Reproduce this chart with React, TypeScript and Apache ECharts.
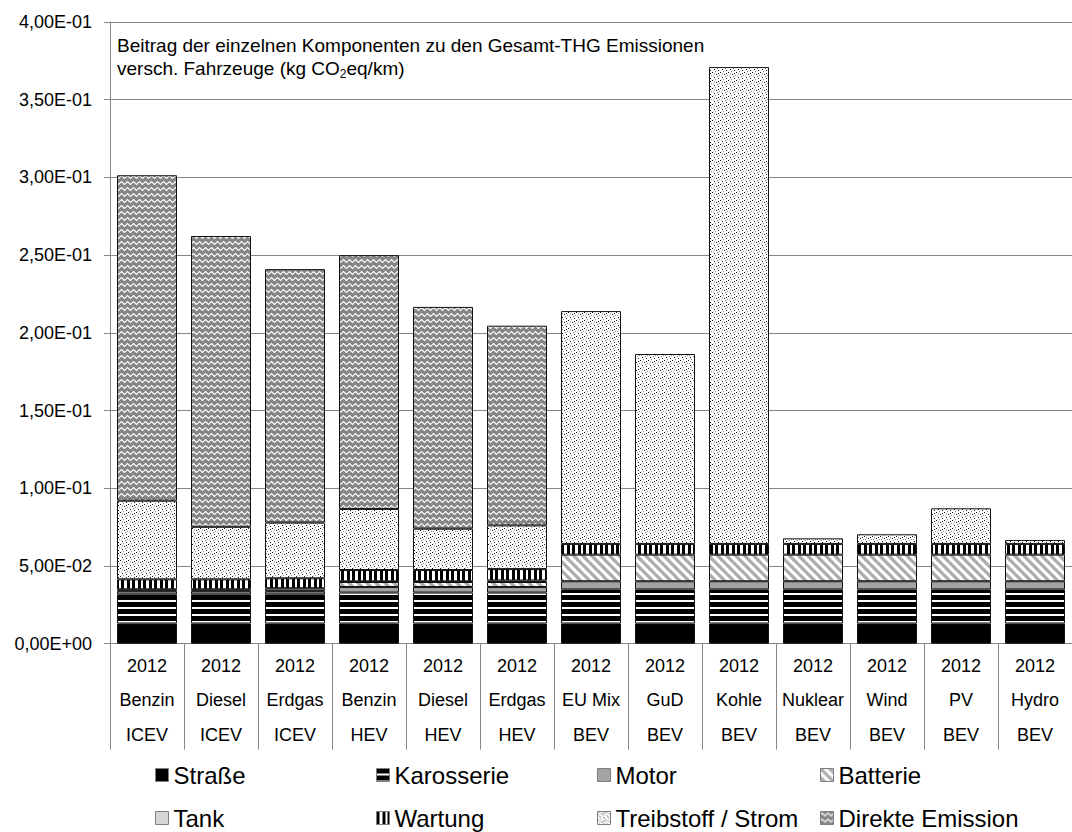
import React, { useEffect, useRef } from 'react';
import * as echarts from 'echarts';

// ---------- data ----------
const years = ['2012', '2012', '2012', '2012', '2012', '2012', '2012', '2012', '2012', '2012', '2012', '2012', '2012'];
const fuels = ['Benzin', 'Diesel', 'Erdgas', 'Benzin', 'Diesel', 'Erdgas', 'EU Mix', 'GuD', 'Kohle', 'Nuklear', 'Wind', 'PV', 'Hydro'];
const types = ['ICEV', 'ICEV', 'ICEV', 'HEV', 'HEV', 'HEV', 'BEV', 'BEV', 'BEV', 'BEV', 'BEV', 'BEV', 'BEV'];

const strasse = [0.0130, 0.0130, 0.0130, 0.0130, 0.0130, 0.0130, 0.0130, 0.0130, 0.0130, 0.0130, 0.0130, 0.0130, 0.0130];
const karosserie = [0.0187, 0.0187, 0.0187, 0.0199, 0.0199, 0.0199, 0.0219, 0.0219, 0.0219, 0.0219, 0.0219, 0.0219, 0.0219];
const motor = [0.0020, 0.0020, 0.0020, 0.0036, 0.0036, 0.0036, 0.0053, 0.0053, 0.0053, 0.0053, 0.0053, 0.0053, 0.0053];
const batterie = [0.0005, 0.0005, 0.0005, 0.0032, 0.0032, 0.0032, 0.0171, 0.0171, 0.0171, 0.0171, 0.0171, 0.0171, 0.0171];
const tank = [0.0008, 0.0008, 0.0015, 0.0004, 0.0004, 0.0010, 0, 0, 0, 0, 0, 0, 0];
const wartung = [0.0064, 0.0064, 0.0064, 0.0073, 0.0073, 0.0073, 0.0069, 0.0069, 0.0069, 0.0069, 0.0069, 0.0069, 0.0069];
const treibstoff = [0.0506, 0.0338, 0.0358, 0.0393, 0.0266, 0.0281, 0.1498, 0.1222, 0.3068, 0.0036, 0.0062, 0.0229, 0.0025];
const direkte = [0.2094, 0.1871, 0.1631, 0.1633, 0.1427, 0.1285, 0, 0, 0, 0, 0, 0, 0];

const seriesNames = ['Straße', 'Karosserie', 'Motor', 'Batterie', 'Tank', 'Wartung', 'Treibstoff / Strom', 'Direkte Emission'];
const seriesValues = [strasse, karosserie, motor, batterie, tank, wartung, treibstoff, direkte];

const yMin = 0;
const yMax = 0.4;
const yStep = 0.05;

const FONT = '"Liberation Sans", Arial, Helvetica, sans-serif';

function tile(w: number, h: number, draw: (ctx: CanvasRenderingContext2D) => void): any {
  const c = document.createElement('canvas');
  c.width = w;
  c.height = h;
  const ctx = c.getContext('2d') as CanvasRenderingContext2D;
  draw(ctx);
  return { image: c, repeat: 'repeat', imageWidth: w, imageHeight: h };
}

function makeFills(): any[] {
  const strasseFill = '#000000';
  const karosserieFill = tile(4, 7, (ctx) => {
    ctx.fillStyle = '#ffffff';
    ctx.fillRect(0, 0, 4, 7);
    ctx.fillStyle = '#000000';
    ctx.fillRect(0, 0, 4, 5);
  });
  const motorFill = '#a3a3a3';
  const batterieFill = tile(9, 9, (ctx) => {
    ctx.fillStyle = '#ffffff';
    ctx.fillRect(0, 0, 9, 9);
    ctx.strokeStyle = '#acacac';
    ctx.lineWidth = 3.2;
    for (const off of [-9, 0, 9]) {
      ctx.beginPath();
      ctx.moveTo(off - 1, -1);
      ctx.lineTo(off + 10, 10);
      ctx.stroke();
    }
  });
  const tankFill = '#d6d6d6';
  const wartungFill = tile(11, 2, (ctx) => {
    ctx.fillStyle = '#ffffff';
    ctx.fillRect(0, 0, 11, 2);
    ctx.fillStyle = '#000000';
    ctx.fillRect(0, 0, 3, 2);
    ctx.fillRect(6, 0, 3, 2);
  });
  const treibFill = tile(8, 8, (ctx) => {
    ctx.fillStyle = '#ffffff';
    ctx.fillRect(0, 0, 8, 8);
    ctx.fillStyle = '#111111';
    ctx.fillRect(0, 0, 1, 1);
    ctx.fillRect(4, 2, 1, 1);
    ctx.fillRect(2, 5, 1, 1);
    ctx.fillRect(6, 6, 1, 1);
    ctx.fillRect(6, 1, 1, 1);
    ctx.fillStyle = '#8a8a8a';
    ctx.fillRect(1, 3, 1, 1);
    ctx.fillRect(5, 4, 1, 1);
    ctx.fillRect(3, 7, 1, 1);
    ctx.fillRect(2, 1, 1, 1);
    ctx.fillRect(7, 3, 1, 1);
  });
  const direkteFill = tile(6, 6, (ctx) => {
    ctx.fillStyle = '#858585';
    ctx.fillRect(0, 0, 6, 6);
    ctx.strokeStyle = '#ffffff';
    ctx.lineWidth = 1.1;
    ctx.beginPath();
    ctx.moveTo(-0.5, 3.5);
    ctx.lineTo(1.5, 1.5);
    ctx.lineTo(4.5, 4.5);
    ctx.lineTo(6.5, 2.5);
    ctx.stroke();
  });
  return [strasseFill, karosserieFill, motorFill, batterieFill, tankFill, wartungFill, treibFill, direkteFill];
}

function fmtExp(v: number): string {
  const s = v.toExponential(2);
  const [m, e] = s.split('e');
  const sign = e.startsWith('-') ? '-' : '+';
  const digits = e.replace('-', '').replace('+', '').padStart(2, '0');
  return m.replace('.', ',') + 'E' + sign + digits;
}

const legendPos = [
  { left: 150, top: 758 },
  { left: 371, top: 758 },
  { left: 592, top: 758 },
  { left: 815, top: 758 },
  { left: 150, top: 801 },
  { left: 371, top: 801 },
  { left: 592, top: 801 },
  { left: 815, top: 801 },
];

export default function App() {
  const ref = useRef<HTMLDivElement>(null);

  useEffect(() => {
    if (!ref.current) return;
    const chart = echarts.init(ref.current, null, { renderer: 'svg' });
    const fills = makeFills();
    const categories = years.map((y, i) => y + '\n' + fuels[i] + '\n' + types[i]);

    const series = seriesNames.map((name, si) => ({
      name,
      type: 'bar',
      stack: 'total',
      barWidth: 60,
      data: seriesValues[si].map((v) => (v === 0 ? null : v)),
      itemStyle: {
        color: fills[si],
        borderColor: '#111111',
        borderWidth: 1,
      },
      emphasis: { disabled: true },
    }));

    const legends = seriesNames.map((name, i) => ({
      data: [name],
      left: legendPos[i].left,
      top: legendPos[i].top,
      orient: 'horizontal',
      icon: 'rect',
      itemWidth: 13,
      itemHeight: 13,
      selectedMode: false,
      itemStyle: { borderColor: '#7f7f7f', borderWidth: 1 },
      textStyle: { fontSize: 24, color: '#000', fontFamily: FONT },
    }));

    chart.setOption({
      animation: false,
      grid: { left: 110, top: 22, width: 975, height: 621.7 },
      xAxis: {
        type: 'category',
        data: categories,
        axisLine: { lineStyle: { color: '#868686', width: 1 } },
        axisTick: { show: true, length: 106, interval: 0, lineStyle: { color: '#868686' } },
        axisLabel: {
          interval: 0,
          margin: 5,
          fontSize: 18,
          lineHeight: 34.5,
          color: '#000',
          fontFamily: FONT,
        },
      },
      yAxis: {
        type: 'value',
        min: yMin,
        max: yMax,
        interval: yStep,
        axisLine: { show: true, lineStyle: { color: '#868686', width: 1 } },
        axisTick: { show: true, length: 6, lineStyle: { color: '#868686' } },
        splitLine: { lineStyle: { color: '#868686', width: 1 } },
        axisLabel: {
          margin: 18,
          fontSize: 18,
          color: '#000',
          fontFamily: FONT,
          formatter: (v: number) => fmtExp(v),
        },
      },
      legend: legends,
      graphic: [
        {
          type: 'text',
          left: 117,
          top: 34,
          z: 100,
          style: {
            text: 'Beitrag der einzelnen Komponenten zu den Gesamt-THG Emissionen\nversch. Fahrzeuge (kg CO{sub|2}eq/km)',
            fontSize: 19,
            lineHeight: 23,
            fontFamily: FONT,
            fill: '#000',
            rich: {
              sub: { fontSize: 12, lineHeight: 23, verticalAlign: 'bottom', padding: [8, 0, 0, 0], fontFamily: FONT, fill: '#000' },
            },
          },
        },
      ],
      series,
    });

    return () => chart.dispose();
  }, []);

  return (
    <div
      ref={ref}
      style={{ position: 'fixed', left: 0, top: 0, width: 1072, height: 832, background: '#fff' }}
    />
  );
}
